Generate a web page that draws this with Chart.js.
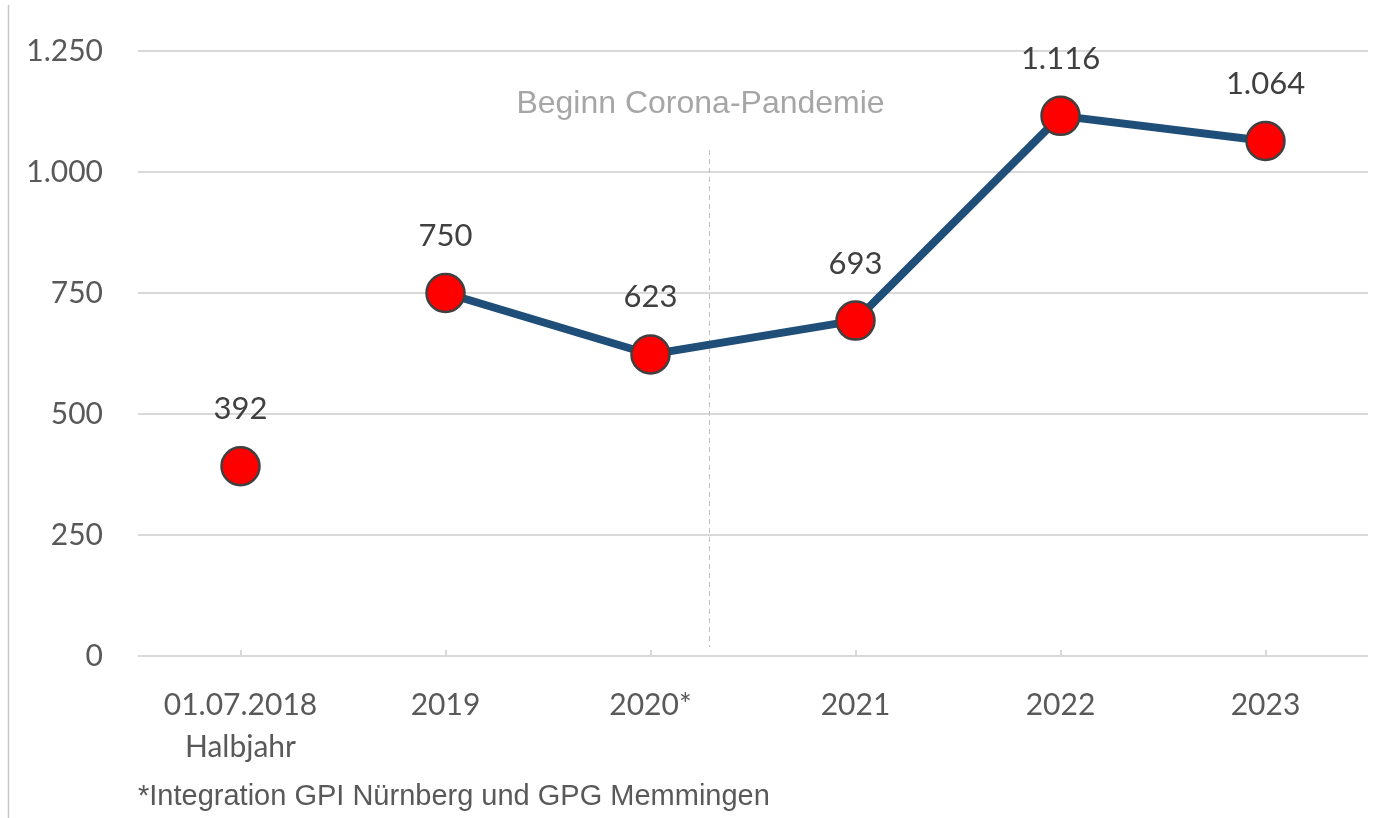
<!DOCTYPE html>
<html>
<head>
<meta charset="utf-8">
<script src="https://cdn.jsdelivr.net/npm/chart.js@4"></script>
<style>
  html, body { margin: 0; padding: 0; background: #fff; overflow: hidden; }
  #wrap { width: 1383px; height: 818px; position: relative; }
  canvas { display: block; }
</style>
</head>
<body>
<div id="wrap"><canvas id="chart"></canvas></div>
<script>
// data
const categories = [['01.07.2018', 'Halbjahr'], '2019', '2020*', '2021', '2022', '2023'];
const values = [392, 750, 623, 693, 1116, 1064];
const yTicks = [0, 250, 500, 750, 1000, 1250];
const annotationText = 'Beginn Corona-Pandemie';
const footnote = '*Integration GPI Nürnberg und GPG Memmingen';

const ctx = document.getElementById('chart');

function fmt(v) {
  return String(v).replace(/\B(?=(\d{3})+(?!\d))/g, '.');
}

// extra drawing: labels, tick marks, dashed line, footnote, frame
const extras = {
  id: 'extras',
  beforeDatasetsDraw(chart) {
    const { ctx: c, chartArea, scales } = chart;
    const x = scales.x;
    c.save();
    // small tick marks above the axis
    c.strokeStyle = '#d9d9d9';
    c.lineWidth = 2;
    for (let i = 0; i < categories.length; i++) {
      const px = Math.round(x.getPixelForValue(i));
      c.beginPath();
      c.moveTo(px, chartArea.bottom);
      c.lineTo(px, chartArea.bottom - 6);
      c.stroke();
    }
    // dashed vertical line
    const lx = x.getPixelForValue(2) + 0.283 * (x.getPixelForValue(3) - x.getPixelForValue(2));
    c.strokeStyle = '#bfbfbf';
    c.lineWidth = 1;
    c.setLineDash([5, 4]);
    c.beginPath();
    c.moveTo(Math.round(lx) + 0.5, 150);
    c.lineTo(Math.round(lx) + 0.5, chartArea.bottom - 9);
    c.stroke();
    c.setLineDash([]);
    // annotation text
    c.fillStyle = '#a6a6a6';
    c.font = '32px "Liberation Sans", Arial, sans-serif';
    c.textAlign = 'center';
    c.textBaseline = 'middle';
    c.fillText(annotationText, lx - 8, 104);
    // left frame line
    c.strokeStyle = '#c8c8c8';
    c.lineWidth = 1.5;
    c.beginPath();
    c.moveTo(8.5, 5);
    c.lineTo(8.5, 818);
    c.stroke();
    // footnote
    c.fillStyle = '#595959';
    c.font = '29px "Liberation Sans", Arial, sans-serif';
    c.textAlign = 'left';
    c.fillText(footnote, chartArea.left, 797);
    c.restore();
  },
  afterDatasetsDraw(chart) {
    const { ctx: c } = chart;
    const meta = chart.getDatasetMeta(0);
    c.save();
    c.fillStyle = '#404040';
    c.font = '31px Lato, sans-serif';
    c.textAlign = 'center';
    c.textBaseline = 'middle';
    meta.data.forEach((pt, i) => {
      c.fillText(fmt(values[i]), pt.x, pt.y - 57);
    });
    c.restore();
  }
};

new Chart(ctx, {
  type: 'line',
  data: {
    labels: categories,
    datasets: [{
      data: values,
      borderColor: '#1f4e79',
      borderWidth: 8,
      pointRadius: 19,
      pointHoverRadius: 19,
      pointBackgroundColor: '#ff0000',
      pointBorderColor: '#404040',
      pointBorderWidth: 2.5,
      tension: 0,
      segment: {
        borderColor: (s) => s.p0DataIndex === 0 ? 'transparent' : '#1f4e79'
      }
    }]
  },
  options: {
    responsive: true,
    maintainAspectRatio: false,
    animation: false,
    events: [],
    layout: { autoPadding: false, padding: { top: 51, right: 15, left: 0, bottom: 0 } },
    plugins: {
      legend: { display: false },
      tooltip: { enabled: false }
    },
    scales: {
      x: {
        offset: true,
        grid: { display: false, drawTicks: false },
        border: { display: false },
        ticks: {
          color: '#595959',
          font: { family: 'Lato', size: 30, lineHeight: 1.4 },
          padding: 28,
          maxRotation: 0,
          autoSkip: false
        },
        afterFit(scale) {
          scale.height = 162;
          scale.paddingLeft = 0;
          scale.paddingRight = 0;
        }
      },
      y: {
        min: 0,
        max: 1250,
        afterBuildTicks(scale) { scale.ticks = yTicks.map(v => ({ value: v })); },
        grid: { color: '#d9d9d9', lineWidth: 2, drawTicks: false },
        border: { display: false },
        ticks: {
          color: '#595959',
          font: { family: 'Lato', size: 30 },
          padding: 35,
          callback: (v) => fmt(v)
        },
        afterFit(scale) {
          scale.width = 138;
          scale.paddingTop = 0;
          scale.paddingBottom = 0;
        }
      }
    }
  },
  plugins: [extras]
});
</script>
</body>
</html>
